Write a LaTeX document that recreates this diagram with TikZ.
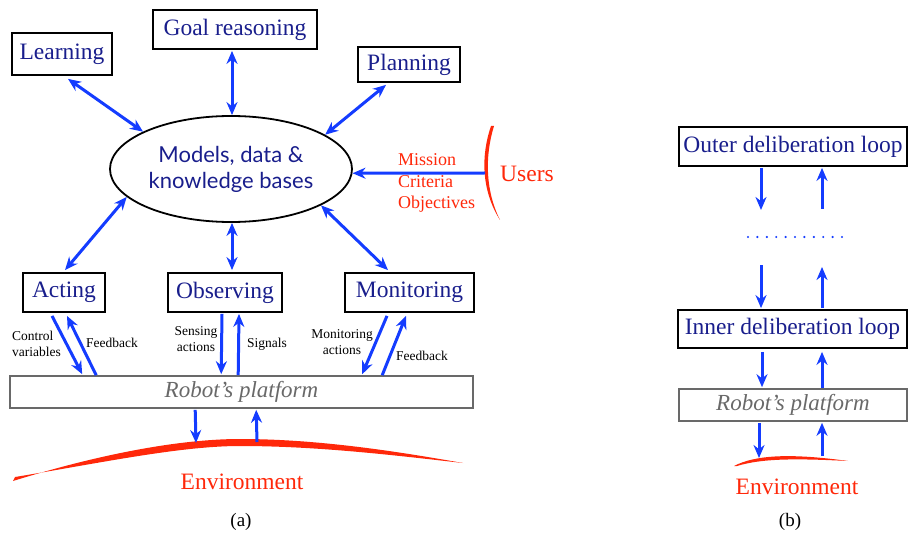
\documentclass[tikz,border=0pt]{standalone}
\usepackage{fontspec}
\setmainfont{Liberation Serif}
\newfontfamily\gill{Lato}
\usetikzlibrary{arrows.meta,shapes.geometric,calc}
\definecolor{navy}{RGB}{25,30,140}
\definecolor{ablue}{RGB}{20,60,255}
\definecolor{ered}{RGB}{255,40,10}
\definecolor{pgray}{RGB}{105,105,105}
\begin{document}
\begin{tikzpicture}[x=1pt,y=-1pt,
  box/.style={draw=black,line width=1.8pt,text=navy,font=\fontsize{23.5}{26}\selectfont,inner sep=0pt,anchor=center},
  arr/.style={ablue,line width=3pt,-{Stealth[length=13pt,width=11pt]}},
  darr/.style={ablue,line width=3pt,{Stealth[length=13pt,width=11pt]}-{Stealth[length=13pt,width=11pt]}},
  lbl/.style={font=\fontsize{13.5}{16}\selectfont,inner sep=0pt},
  plat/.style={draw=pgray,line width=1.6pt,text=pgray,font=\fontsize{23}{24}\itshape\selectfont,inner sep=0pt},
  redtxt/.style={text=ered,inner sep=0pt},
]
\path[use as bounding box] (0,0) rectangle (909,537);

% ---------- (a) ----------
\node[box,minimum width=100pt,minimum height=42pt] (learn) at (62,54) {Learning};
\node[box,minimum width=164pt,minimum height=39pt] (goal) at (235,29.5) {Goal reasoning};
\node[box,minimum width=102pt,minimum height=35pt] (plan) at (409,64.5) {Planning};
\node[ellipse,draw=black,line width=1.8pt,minimum width=242pt,minimum height=106pt,inner sep=0pt,
      text=navy,font=\gill\fontsize{22}{26}\selectfont,align=center] (kb) at (231,169) {Models, data \&\\knowledge bases};
\node[box,minimum width=82pt,minimum height=39pt] (act) at (64,292.5) {Acting};
\node[box,minimum width=114pt,minimum height=39pt] (obs) at (225,292.5) {Observing};
\node[box,minimum width=129pt,minimum height=39pt] (mon) at (409.5,292.5) {Monitoring};
\node[plat,minimum width=463pt,minimum height=32pt] (pf) at (241.5,392) {Robot’s platform};

\draw[darr] ($(learn.south)+(6,3)$) -- (kb.157);
\draw[darr] ($(goal.south)+(-3,1)$) -- ($(kb.north)+(1,0)$);
\draw[darr] ($(plan.south)+(-23,2)$) -- (kb.20);
\draw[darr] (kb.195) -- ($(act.north)+(1,-2)$);
\draw[darr] ($(kb.south)+(1,0)$) -- ($(obs.north)+(7,-2)$);
\draw[darr] (kb.-22) -- ($(mon.north)+(-21.5,-2)$);

% users
\fill[ered] (491,126) .. controls (481,155) and (481,190) .. (500,220)
   .. controls (485,190) and (485,155) .. (494,126) -- cycle;
\coordinate (uc) at (485,173);
\draw[arr] (uc) -- (kb.-2);
\node[redtxt,font=\fontsize{18}{21.5}\selectfont,align=left,anchor=west] (mis) at (398,183) {Mission\\Criteria\\Objectives};
\node[redtxt,font=\fontsize{23.5}{26}\selectfont,anchor=west] (users) at (500,174) {Users};

% acting / observing / monitoring to platform
\draw[arr] ($(act.south)+(-12,3)$) -- ($(pf.north west)+(73,-1)$);
\draw[arr] ($(pf.north west)+(87,0)$) -- ($(act.south)+(3,3)$);
\draw[arr] ($(obs.south)+(-3,1)$) -- ($(pf.north west)+(212,-1)$);
\draw[arr] ($(pf.north west)+(229,0)$) -- ($(obs.south)+(14,1)$);
\draw[arr] ($(mon.south)+(-22.5,3)$) -- ($(pf.north west)+(353,-1)$);
\draw[arr] ($(pf.north west)+(373,0)$) -- ($(mon.south)+(-3.5,3)$);

\node[lbl,align=left,anchor=west] (cv) at (12,343.5) {Control\\variables};
\node[lbl,anchor=west] (fb1) at (86,343) {Feedback};
\node[lbl,align=center] (sa) at (196,339) {Sensing\\actions};
\node[lbl,anchor=west] (sig) at (247,344) {Signals};
\node[lbl,align=center] (ma) at (342,342) {Monitoring\\actions};
\node[lbl,anchor=west] (fb2) at (396,356) {Feedback};

% environment (a)
\fill[ered] (13,481) .. controls (100,454) and (180,439) .. (240,439)
   .. controls (320,439) and (400,452) .. (463,463)
   .. controls (400,456) and (320,446) .. (240,446)
   .. controls (180,446) and (100,463) .. (15,477) -- cycle;
\coordinate (envA) at (196,443);
\coordinate (envB) at (257,442);
\draw[arr] ($(pf.south west)+(186,1)$) -- (envA);
\draw[arr] (envB) -- ($(pf.south west)+(247,1)$);
\node[redtxt,font=\fontsize{23.5}{26}\selectfont] (env) at (242,482) {Environment};
\node[font=\fontsize{19}{20}\selectfont,inner sep=0pt] (la) at (241,522) {(a)};

% ---------- (b) ----------
\node[box,minimum width=228pt,minimum height=39pt] (outer) at (793,146.5) {Outer deliberation loop};
\node[box,minimum width=229pt,minimum height=38pt] (inner) at (792.5,329) {Inner deliberation loop};
\node[plat,minimum width=228pt,minimum height=32pt] (pf2) at (793,405) {Robot’s platform};

\coordinate (o1) at (761,210);
\coordinate (o2) at (822,209);
\coordinate (i1) at (761,265);
\coordinate (i2) at (822,267);
\draw[arr] ($(outer.south)+(-32,1)$) -- (o1);
\draw[arr] (o2) -- ($(outer.south)+(29,1)$);
\foreach \k in {0,...,10} \fill[ablue] (748+9.4*\k,237) circle (1.2pt);
\draw[arr] (i1) -- ($(inner.north)+(-31.5,-1)$);
\draw[arr] ($(inner.north)+(29.5,-1)$) -- (i2);
\draw[arr] ($(inner.south)+(-30.5,3)$) -- ($(pf2.north)+(-31,-1)$);
\draw[arr] ($(pf2.north)+(29,0)$) -- ($(inner.south)+(29.5,3)$);

\fill[ered] (734,466) .. controls (755,455) and (790,453) .. (848,461)
   .. controls (790,458) and (760,459) .. (737,466) -- cycle;
\coordinate (e1) at (759,458);
\coordinate (e2) at (822,456);
\draw[arr] ($(pf2.south)+(-34,1)$) -- (e1);
\draw[arr] (e2) -- ($(pf2.south)+(29,1)$);
\node[redtxt,font=\fontsize{23.5}{26}\selectfont] (env2) at (797,487) {Environment};
\node[font=\fontsize{19}{20}\selectfont,inner sep=0pt] (lb) at (790,522) {(b)};
\end{tikzpicture}
\end{document}
